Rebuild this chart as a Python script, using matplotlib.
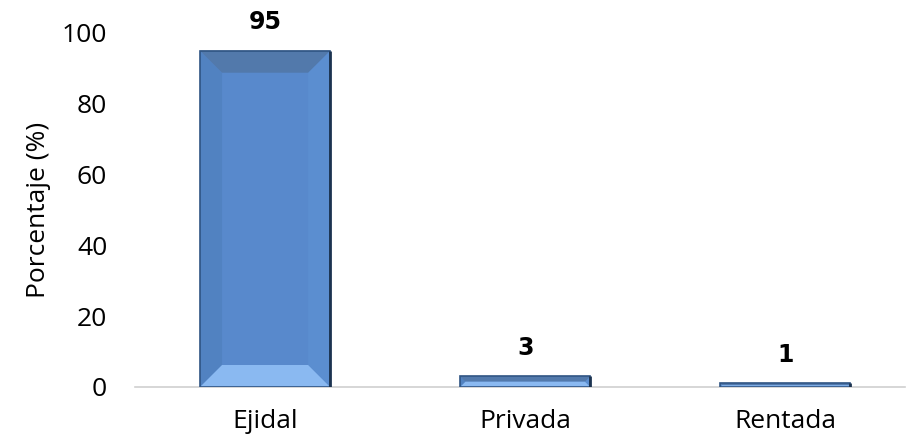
import matplotlib
matplotlib.use("Agg")
import matplotlib.pyplot as plt
from matplotlib.patches import Polygon

# values
categorias = ["Ejidal", "Privada", "Rentada"]
porcentajes = [95, 3, 1]
etiquetas = ["95", "3", "1"]

plt.rcParams['font.family'] = ['Open Sans', 'DejaVu Sans']

fig = plt.figure(figsize=(9.11, 4.38), dpi=100)
ax = fig.add_axes([135/911, 51/438, 770/911, (387-33)/438])

x = range(len(categorias))
bars = ax.bar(x, porcentajes, width=0.5, color="#5889cc",
              edgecolor="none", zorder=2)

ax.set_xlim(-0.5, 2.46)
ax.set_ylim(0, 100)

# bevel effect drawn on top of each bar, sized from the bar itself
px_x = 0.5 / 130.0          # data units per pixel in x
px_y = 100.0 / 354.0        # data units per pixel in y
bev = 22
for b in bars:
    x0, y0 = b.get_x(), b.get_y()
    w, h = b.get_width(), b.get_height()
    x1, y1 = x0 + w, y0 + h
    dy = min(bev * px_y, h / 2)
    dx = dy / px_y * px_x
    # left
    ax.add_patch(Polygon([(x0, y0), (x0, y1), (x0 + dx, y1 - dy), (x0 + dx, y0 + dy)],
                         closed=True, facecolor="#5182c1", edgecolor="none", zorder=3))
    # right
    ax.add_patch(Polygon([(x1, y0), (x1, y1), (x1 - dx, y1 - dy), (x1 - dx, y0 + dy)],
                         closed=True, facecolor="#5b8ed0", edgecolor="none", zorder=3))
    # top
    ax.add_patch(Polygon([(x0, y1), (x1, y1), (x1 - dx, y1 - dy), (x0 + dx, y1 - dy)],
                         closed=True, facecolor="#5279ab", edgecolor="none", zorder=3))
    # bottom
    ax.add_patch(Polygon([(x0, y0), (x1, y0), (x1 - dx, y0 + dy), (x0 + dx, y0 + dy)],
                         closed=True, facecolor="#8ab9f1", edgecolor="none", zorder=3))
    ax.add_patch(Polygon([(x0, y0), (x1, y0), (x1, y1), (x0, y1)], closed=True,
                         facecolor="none", edgecolor="#2f5483", linewidth=1.2, zorder=4))
    ax.plot([x1, x1], [y0, y1], color="#1c3350", linewidth=2.0, zorder=5,
            solid_capstyle="butt")

for b, t in zip(bars, etiquetas):
    ax.annotate(t, (b.get_x() + b.get_width() / 2, b.get_height()),
                xytext=(0, 12), textcoords="offset points",
                ha="center", va="bottom", fontsize=17, fontweight="bold",
                color="black", family="DejaVu Sans")

ax.set_xticks(list(x))
ax.set_xticklabels(categorias, fontsize=19)
ax.set_yticks([0, 20, 40, 60, 80, 100])
ax.tick_params(axis="y", length=0, pad=20, labelsize=19)
ax.tick_params(axis="x", length=0, pad=16)
ax.set_ylabel("Porcentaje (%)", fontsize=19, labelpad=8)

for s in ["top", "right", "left"]:
    ax.spines[s].set_visible(False)
ax.spines["bottom"].set_color("#d0d0d0")
ax.spines["bottom"].set_linewidth(1.2)

fig.savefig("out.png", dpi=100)
